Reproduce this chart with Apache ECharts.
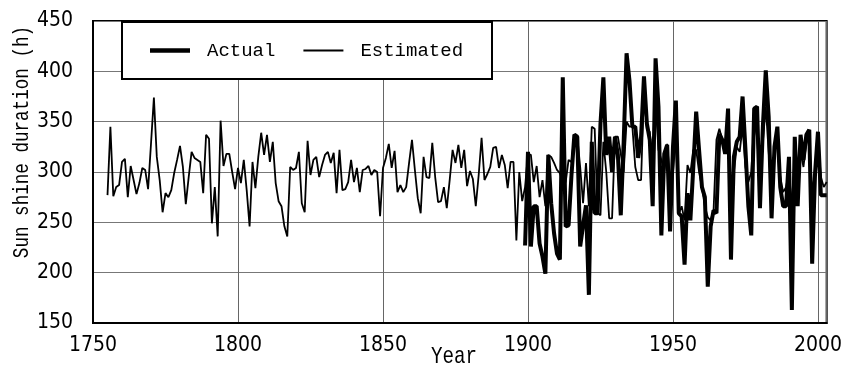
<!DOCTYPE html>
<html>
<head>
<meta charset="utf-8">
<script src="https://cdn.jsdelivr.net/npm/echarts@6/dist/echarts.min.js"></script>
<style>html,body{margin:0;padding:0;background:#fff}#c{width:845px;height:374px}</style>
</head>
<body>
<div id="c"></div>
<script>
// ---- data ----
const estimatedStartYear = 1755;
const estimatedValues = [
  277,345,276,285,287,310,313,275,306,292,
  278,289,304,302,283,328,374,315,292,260,
  279,275,282,299,312,326,305,268,295,320,
  314,312,310,279,337,333,249,285,236,351,
  306,318,318,300,283,304,289,312,282,246,
  310,284,315,339,317,337,310,330,289,271,
  266,246,236,305,302,304,320,269,260,331,
  297,312,315,295,307,317,320,309,319,279,
  322,282,283,290,312,290,304,280,302,303,
  306,297,302,300,256,304,314,328,304,321,
  280,287,280,285,309,332,302,274,259,315,
  295,294,329,295,270,271,285,264,292,322,
  309,327,304,322,286,301,293,266,297,334,
  292,298,305,324,325,304,317,307,284,310,
  310,232,300,271,
  285,318,317,290,306,275,292,266,317,315,
  309,302,299,289,290,312,310,337,335,305,
  269,309,266,345,343,259,257,330,300,254,
  254,335,335,318,300,350,345,345,305,292,
  292,380,342,340,269,368,322,312,300,328,
  292,299,335,259,266,252,307,299,322,322,
  300,285,266,255,252,262,332,343,332,330,
  335,280,300,325,320,345,305,290,300,350,
  335,290,330,365,320,280,320,335,295,280,
  285,300,265,320,300,320,305,330,335,280,
  300,335,295,285,290
];
const actualStartYear = 1899;
const actualValues = [
  227,320,226,266,266,229,216,199,317,269,
  239,219,213,394,246,247,297,337,335,226,
  247,267,178,330,259,259,348,394,317,335,
  300,335,317,257,330,418,391,345,345,314,
  335,395,348,332,266,413,365,237,318,327,
  241,325,371,259,256,208,279,252,304,360,
  322,285,275,186,246,262,259,338,332,318,
  363,213,315,330,335,375,322,266,237,363,
  365,264,345,401,355,254,325,345,285,266,
  266,315,163,335,266,337,312,337,342,209,
  299,340,277,277,277
];
const xTicks = [1750, 1800, 1850, 1900, 1950, 2000];
const yTicks = [150, 200, 250, 300, 350, 400, 450];
const seriesNames = ['Actual', 'Estimated'];
const xAxisTitle = 'Year';
const yAxisTitle = 'Sun shine duration (h)';

const toPairs = (start, vals) => vals.map((v, i) => [start + i, v]);

const labelFont = '"Liberation Sans Narrow", "DejaVu Sans Condensed", sans-serif';
const monoFont = '"Liberation Mono", "DejaVu Sans Mono", monospace';

const chart = echarts.init(document.getElementById('c'), null, {renderer: 'canvas'});
chart.setOption({
  animation: false,
  backgroundColor: '#fff',
  grid: {left: 93, right: 18, top: 21, bottom: 51, show: true, borderColor: '#000', borderWidth: 2, backgroundColor: 'transparent'},
  xAxis: {
    type: 'value', min: xTicks[0], max: 2003, interval: 50,
    axisLine: {show: true, onZero: false, lineStyle: {color: '#000', width: 2}},
    axisTick: {show: false},
    splitLine: {show: true, lineStyle: {color: '#666', width: 1}},
    axisLabel: {
      show: true, margin: 12, color: '#000', fontFamily: labelFont, fontSize: 21,
      showMaxLabel: false,
      formatter: v => xTicks.includes(v) ? String(v) : ''
    }
  },
  yAxis: {
    type: 'value', min: yTicks[0], max: yTicks[yTicks.length - 1], interval: 50,
    axisLine: {show: true, lineStyle: {color: '#000', width: 2}},
    axisTick: {show: false},
    splitLine: {show: true, lineStyle: {color: '#777', width: 1.2}},
    axisLabel: {margin: 20, color: '#000', fontFamily: labelFont, fontSize: 21}
  },
  legend: {
    show: true, z: 110,
    left: 145, top: 36,
    itemWidth: 40, itemHeight: 14, itemGap: 28,
    symbolKeepAspect: true,
    data: [
      {name: seriesNames[0], icon: 'path://M0,0H40V4.5H0Z'},
      {name: seriesNames[1], icon: 'path://M0,0H40V1.8H0Z'}
    ],
    itemStyle: {color: '#000', borderWidth: 0},
    textStyle: {color: '#000', fontFamily: monoFont, fontSize: 19, padding: [0, 0, 0, 12]}
  },
  graphic: [
    {type: 'rect', z: 100, shape: {x: 122, y: 22, width: 370, height: 57},
     style: {fill: '#fff', stroke: '#000', lineWidth: 2}},
    {type: 'text', z: 100, x: 454, y: 357, scaleX: 0.8,
     style: {text: xAxisTitle, fontFamily: monoFont, fontSize: 24, fill: '#000', textAlign: 'center', textVerticalAlign: 'middle'}},
    {type: 'text', z: 100, x: 22, y: 142, rotation: Math.PI / 2, scaleX: 0.8,
     style: {text: yAxisTitle, fontFamily: monoFont, fontSize: 22, fill: '#000', textAlign: 'center', textVerticalAlign: 'middle'}}
  ],
  series: [
    {
      name: seriesNames[1], type: 'line', symbol: 'none', z: 3,
      data: toPairs(estimatedStartYear, estimatedValues),
      lineStyle: {color: '#000', width: 1.8}, itemStyle: {color: '#000'}
    },
    {
      name: seriesNames[0], type: 'line', symbol: 'none', z: 4,
      data: toPairs(actualStartYear, actualValues),
      lineStyle: {color: '#000', width: 4}, itemStyle: {color: '#000'}
    }
  ]
});
</script>
</body>
</html>
